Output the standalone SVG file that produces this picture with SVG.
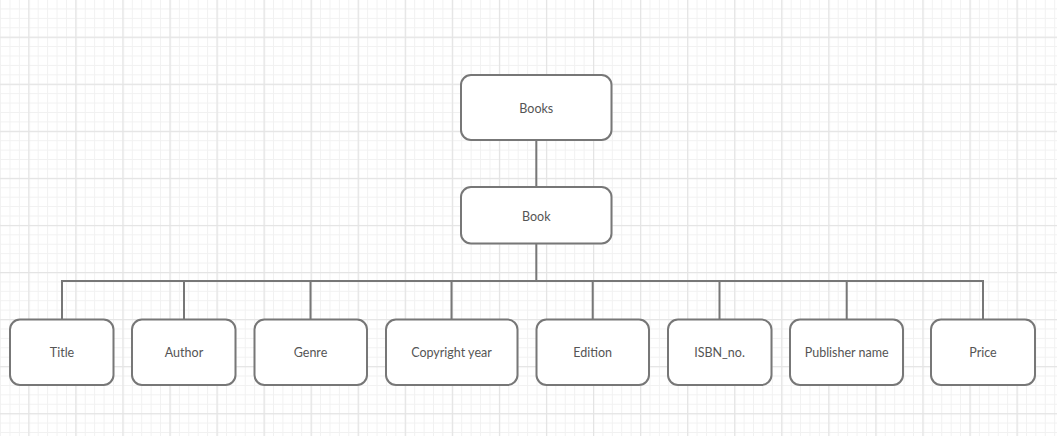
<svg xmlns="http://www.w3.org/2000/svg" width="1057" height="436" viewBox="0 0 1057 436">
<defs>
<pattern id="minor" patternUnits="userSpaceOnUse" x="28.3" y="36.7" width="9.412" height="9.412">
<path d="M0 0.5H9.412M0.5 0V9.412" fill="none" stroke="#f1f1f1" stroke-width="1"/>
</pattern>
<pattern id="major" patternUnits="userSpaceOnUse" x="28.3" y="36.7" width="47.06" height="47.06">
<path d="M0 0.5H47.06M0.5 0V47.06" fill="none" stroke="#e4e4e4" stroke-width="1.5"/>
</pattern>
<style>
.n rect{fill:#fff;stroke:#777;stroke-width:2}
.n text{font-family:Lato,"Liberation Sans",sans-serif;font-size:12.5px;fill:#555;text-anchor:middle;dominant-baseline:central}
.c path{fill:none;stroke:#777;stroke-width:2}
</style>
</defs>
<rect width="1057" height="436" fill="#fff"/>
<rect width="1057" height="436" fill="url(#minor)"/>
<rect width="1057" height="436" fill="url(#major)"/>
<g class="c" id="connectors">
<path d="M536.3 140V187"/>
<path d="M536.3 243.7V281"/>
<path d="M62 319V281H983V319"/>
<path d="M184 319V281"/>
<path d="M310.5 319V281"/>
<path d="M451.5 319V281"/>
<path d="M592.7 319V281"/>
<path d="M719.5 319V281"/>
<path d="M846.7 319V281"/>
</g>
<g class="n" id="books"><rect x="461" y="75" width="150.5" height="65" rx="10"/><text x="536.3" y="108">Books</text></g>
<g class="n" id="book"><rect x="461" y="187" width="150.5" height="56.5" rx="10"/><text x="536.3" y="216">Book</text></g>
<g class="n" id="title"><rect x="10" y="319.5" width="103.5" height="65.5" rx="10"/><text x="62" y="352.5">Title</text></g>
<g class="n" id="author"><rect x="132" y="319.5" width="103.5" height="65.5" rx="10"/><text x="184" y="352.5">Author</text></g>
<g class="n" id="genre"><rect x="254.5" y="319.5" width="112.5" height="65.5" rx="10"/><text x="310.5" y="352.5">Genre</text></g>
<g class="n" id="copyright"><rect x="386" y="319.5" width="131.5" height="65.5" rx="10"/><text x="451.5" y="352.5">Copyright year</text></g>
<g class="n" id="edition"><rect x="536.5" y="319.5" width="112.5" height="65.5" rx="10"/><text x="592.7" y="352.5">Edition</text></g>
<g class="n" id="isbn"><rect x="668" y="319.5" width="103.5" height="65.5" rx="10"/><text x="719.5" y="352.5">ISBN_no.</text></g>
<g class="n" id="publisher"><rect x="790" y="319.5" width="113" height="65.5" rx="10"/><text x="846.7" y="352.5">Publisher name</text></g>
<g class="n" id="price"><rect x="931" y="319.5" width="104" height="65.5" rx="10"/><text x="983" y="352.5">Price</text></g>
</svg>
